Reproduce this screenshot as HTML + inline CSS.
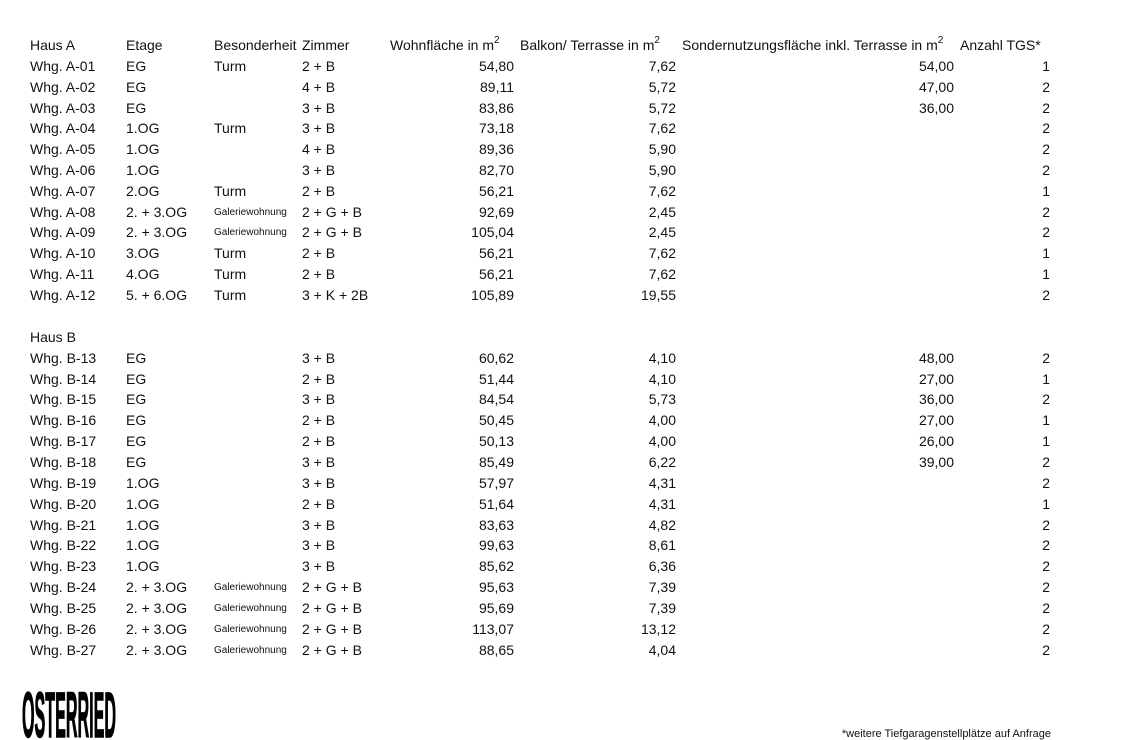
<!DOCTYPE html>
<html><head><meta charset="utf-8"><style>
body{margin:0;width:1148px;height:740px;background:#fff;font-family:"Liberation Sans",sans-serif;font-size:14px;color:#111;position:relative;overflow:hidden}
.r{position:absolute;left:0;width:1148px;height:20px;line-height:20px;margin-top:1px}
.r span{position:absolute;white-space:nowrap}
.a{left:30px}.b{left:126px}.c{left:214px}.c.s{font-size:10px;top:1px}.d{left:302px}
.e{right:634px}.f{right:472px}.g{right:194px}.h{right:98px}
sup{font-size:10px;line-height:0;vertical-align:7px}
.hd .e{left:390px;right:auto}.hd .f{left:520px;right:auto}.hd .g{left:682px;right:auto}.hd .h{left:960px;right:auto}
.fn{position:absolute;right:97px;top:728px;font-size:11px}
</style></head><body>
<div class="r hd" style="top:34px"><span class="a">Haus A</span><span class="b">Etage</span><span class="c">Besonderheit</span><span class="d">Zimmer</span><span class="e">Wohnfläche in m<sup>2</sup></span><span class="f">Balkon/ Terrasse in m<sup>2</sup></span><span class="g">Sondernutzungsfläche inkl. Terrasse in m<sup>2</sup></span><span class="h">Anzahl TGS*</span></div>
<div class="r" style="top:55px"><span class="a">Whg. A-01</span><span class="b">EG</span><span class="c">Turm</span><span class="d">2 + B</span><span class="e">54,80</span><span class="f">7,62</span><span class="g">54,00</span><span class="h">1</span></div>
<div class="r" style="top:75.8px"><span class="a">Whg. A-02</span><span class="b">EG</span><span class="d">4 + B</span><span class="e">89,11</span><span class="f">5,72</span><span class="g">47,00</span><span class="h">2</span></div>
<div class="r" style="top:96.6px"><span class="a">Whg. A-03</span><span class="b">EG</span><span class="d">3 + B</span><span class="e">83,86</span><span class="f">5,72</span><span class="g">36,00</span><span class="h">2</span></div>
<div class="r" style="top:117.4px"><span class="a">Whg. A-04</span><span class="b">1.OG</span><span class="c">Turm</span><span class="d">3 + B</span><span class="e">73,18</span><span class="f">7,62</span><span class="h">2</span></div>
<div class="r" style="top:138.2px"><span class="a">Whg. A-05</span><span class="b">1.OG</span><span class="d">4 + B</span><span class="e">89,36</span><span class="f">5,90</span><span class="h">2</span></div>
<div class="r" style="top:159px"><span class="a">Whg. A-06</span><span class="b">1.OG</span><span class="d">3 + B</span><span class="e">82,70</span><span class="f">5,90</span><span class="h">2</span></div>
<div class="r" style="top:179.8px"><span class="a">Whg. A-07</span><span class="b">2.OG</span><span class="c">Turm</span><span class="d">2 + B</span><span class="e">56,21</span><span class="f">7,62</span><span class="h">1</span></div>
<div class="r" style="top:200.6px"><span class="a">Whg. A-08</span><span class="b">2. + 3.OG</span><span class="c s">Galeriewohnung</span><span class="d">2 + G + B</span><span class="e">92,69</span><span class="f">2,45</span><span class="h">2</span></div>
<div class="r" style="top:221.4px"><span class="a">Whg. A-09</span><span class="b">2. + 3.OG</span><span class="c s">Galeriewohnung</span><span class="d">2 + G + B</span><span class="e">105,04</span><span class="f">2,45</span><span class="h">2</span></div>
<div class="r" style="top:242.2px"><span class="a">Whg. A-10</span><span class="b">3.OG</span><span class="c">Turm</span><span class="d">2 + B</span><span class="e">56,21</span><span class="f">7,62</span><span class="h">1</span></div>
<div class="r" style="top:263px"><span class="a">Whg. A-11</span><span class="b">4.OG</span><span class="c">Turm</span><span class="d">2 + B</span><span class="e">56,21</span><span class="f">7,62</span><span class="h">1</span></div>
<div class="r" style="top:283.8px"><span class="a">Whg. A-12</span><span class="b">5. + 6.OG</span><span class="c">Turm</span><span class="d">3 + K + 2B</span><span class="e">105,89</span><span class="f">19,55</span><span class="h">2</span></div>
<div class="r" style="top:325.6px"><span class="a">Haus B</span></div>
<div class="r" style="top:346.6px"><span class="a">Whg. B-13</span><span class="b">EG</span><span class="d">3 + B</span><span class="e">60,62</span><span class="f">4,10</span><span class="g">48,00</span><span class="h">2</span></div>
<div class="r" style="top:367.5px"><span class="a">Whg. B-14</span><span class="b">EG</span><span class="d">2 + B</span><span class="e">51,44</span><span class="f">4,10</span><span class="g">27,00</span><span class="h">1</span></div>
<div class="r" style="top:388.3px"><span class="a">Whg. B-15</span><span class="b">EG</span><span class="d">3 + B</span><span class="e">84,54</span><span class="f">5,73</span><span class="g">36,00</span><span class="h">2</span></div>
<div class="r" style="top:409.2px"><span class="a">Whg. B-16</span><span class="b">EG</span><span class="d">2 + B</span><span class="e">50,45</span><span class="f">4,00</span><span class="g">27,00</span><span class="h">1</span></div>
<div class="r" style="top:430px"><span class="a">Whg. B-17</span><span class="b">EG</span><span class="d">2 + B</span><span class="e">50,13</span><span class="f">4,00</span><span class="g">26,00</span><span class="h">1</span></div>
<div class="r" style="top:450.9px"><span class="a">Whg. B-18</span><span class="b">EG</span><span class="d">3 + B</span><span class="e">85,49</span><span class="f">6,22</span><span class="g">39,00</span><span class="h">2</span></div>
<div class="r" style="top:471.8px"><span class="a">Whg. B-19</span><span class="b">1.OG</span><span class="d">3 + B</span><span class="e">57,97</span><span class="f">4,31</span><span class="h">2</span></div>
<div class="r" style="top:492.6px"><span class="a">Whg. B-20</span><span class="b">1.OG</span><span class="d">2 + B</span><span class="e">51,64</span><span class="f">4,31</span><span class="h">1</span></div>
<div class="r" style="top:513.5px"><span class="a">Whg. B-21</span><span class="b">1.OG</span><span class="d">3 + B</span><span class="e">83,63</span><span class="f">4,82</span><span class="h">2</span></div>
<div class="r" style="top:534.3px"><span class="a">Whg. B-22</span><span class="b">1.OG</span><span class="d">3 + B</span><span class="e">99,63</span><span class="f">8,61</span><span class="h">2</span></div>
<div class="r" style="top:555.2px"><span class="a">Whg. B-23</span><span class="b">1.OG</span><span class="d">3 + B</span><span class="e">85,62</span><span class="f">6,36</span><span class="h">2</span></div>
<div class="r" style="top:576px"><span class="a">Whg. B-24</span><span class="b">2. + 3.OG</span><span class="c s">Galeriewohnung</span><span class="d">2 + G + B</span><span class="e">95,63</span><span class="f">7,39</span><span class="h">2</span></div>
<div class="r" style="top:596.9px"><span class="a">Whg. B-25</span><span class="b">2. + 3.OG</span><span class="c s">Galeriewohnung</span><span class="d">2 + G + B</span><span class="e">95,69</span><span class="f">7,39</span><span class="h">2</span></div>
<div class="r" style="top:617.8px"><span class="a">Whg. B-26</span><span class="b">2. + 3.OG</span><span class="c s">Galeriewohnung</span><span class="d">2 + G + B</span><span class="e">113,07</span><span class="f">13,12</span><span class="h">2</span></div>
<div class="r" style="top:638.6px"><span class="a">Whg. B-27</span><span class="b">2. + 3.OG</span><span class="c s">Galeriewohnung</span><span class="d">2 + G + B</span><span class="e">88,65</span><span class="f">4,04</span><span class="h">2</span></div>
<svg style="position:absolute;left:0;top:680px" width="140" height="60"><text x="22" y="57" font-family="Liberation Sans" font-weight="bold" font-size="64" textLength="94" lengthAdjust="spacingAndGlyphs" fill="#000" stroke="#000" stroke-width="1.5">OSTERRIED</text></svg>
<div class="fn">*weitere Tiefgaragenstellplätze auf Anfrage</div>
</body></html>
